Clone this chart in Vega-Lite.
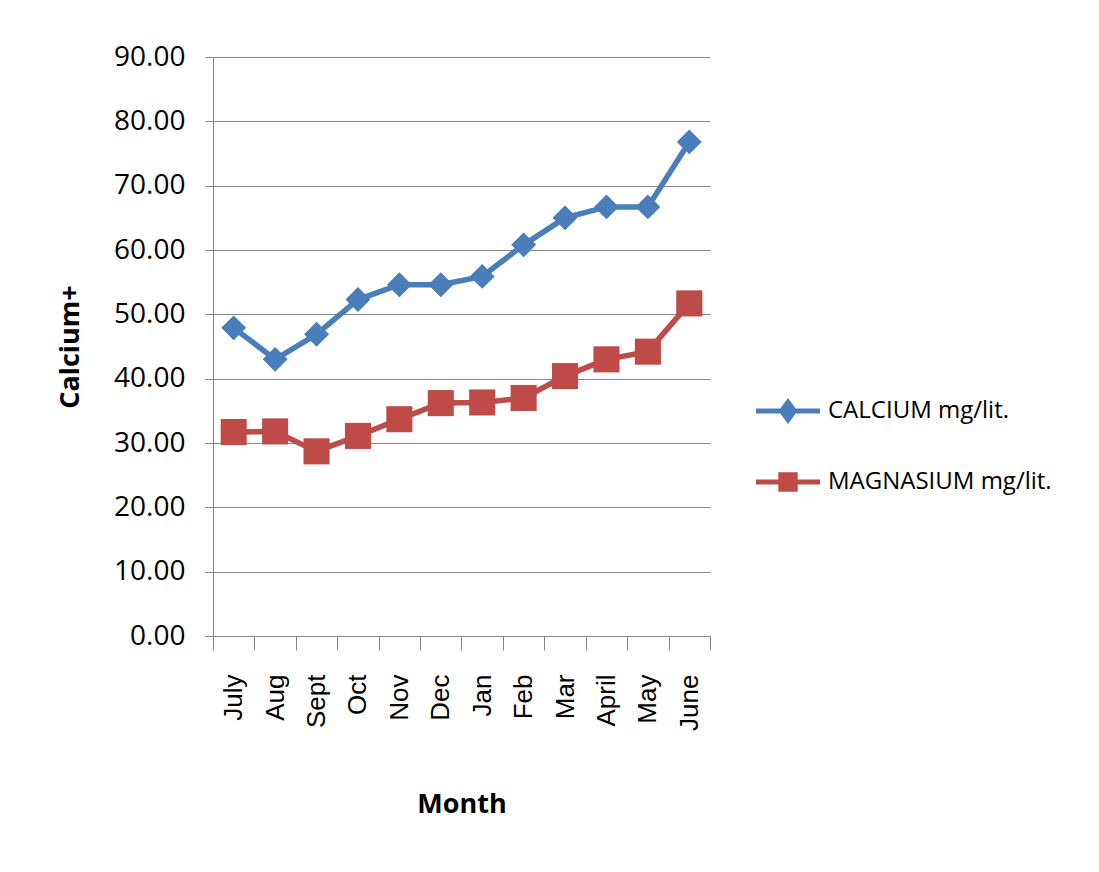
{
  "$schema": "https://vega.github.io/schema/vega-lite/v6.json",
  "width": 497,
  "height": 579,
  "autosize": {"type": "none"},
  "padding": {"left": 213, "top": 57, "right": 389, "bottom": 236},
  "background": "white",
  "config": {
    "view": {"stroke": null},
    "axis": {
      "domainColor": "#868686",
      "tickColor": "#868686",
      "gridColor": "#868686",
      "labelColor": "black",
      "titleColor": "black"
    }
  },
  "data": {
    "values": [
      {"month": "July", "series": "CALCIUM mg/lit.", "value": 47.9},
      {"month": "Aug", "series": "CALCIUM mg/lit.", "value": 43.0},
      {"month": "Sept", "series": "CALCIUM mg/lit.", "value": 46.9},
      {"month": "Oct", "series": "CALCIUM mg/lit.", "value": 52.3},
      {"month": "Nov", "series": "CALCIUM mg/lit.", "value": 54.6},
      {"month": "Dec", "series": "CALCIUM mg/lit.", "value": 54.6},
      {"month": "Jan", "series": "CALCIUM mg/lit.", "value": 55.9},
      {"month": "Feb", "series": "CALCIUM mg/lit.", "value": 60.8},
      {"month": "Mar", "series": "CALCIUM mg/lit.", "value": 65.0},
      {"month": "April", "series": "CALCIUM mg/lit.", "value": 66.7},
      {"month": "May", "series": "CALCIUM mg/lit.", "value": 66.7},
      {"month": "June", "series": "CALCIUM mg/lit.", "value": 76.8},
      {"month": "July", "series": "MAGNASIUM mg/lit.", "value": 31.7},
      {"month": "Aug", "series": "MAGNASIUM mg/lit.", "value": 31.8},
      {"month": "Sept", "series": "MAGNASIUM mg/lit.", "value": 28.7},
      {"month": "Oct", "series": "MAGNASIUM mg/lit.", "value": 31.1},
      {"month": "Nov", "series": "MAGNASIUM mg/lit.", "value": 33.7},
      {"month": "Dec", "series": "MAGNASIUM mg/lit.", "value": 36.2},
      {"month": "Jan", "series": "MAGNASIUM mg/lit.", "value": 36.3},
      {"month": "Feb", "series": "MAGNASIUM mg/lit.", "value": 37.0},
      {"month": "Mar", "series": "MAGNASIUM mg/lit.", "value": 40.4},
      {"month": "April", "series": "MAGNASIUM mg/lit.", "value": 43.0},
      {"month": "May", "series": "MAGNASIUM mg/lit.", "value": 44.2},
      {"month": "June", "series": "MAGNASIUM mg/lit.", "value": 51.7}
    ]
  },
  "encoding": {
    "x": {
      "field": "month",
      "type": "ordinal",
      "sort": ["July", "Aug", "Sept", "Oct", "Nov", "Dec", "Jan", "Feb", "Mar", "April", "May", "June"],
      "scale": {"type": "band", "paddingInner": 0, "paddingOuter": 0},
      "axis": {
        "title": "Month",
        "titleFont": "Open Sans",
        "titleFontSize": 27,
        "titleFontWeight": "bold",
        "titleBaseline": "middle",
        "titleY": 168,
        "labelAngle": -90,
        "labelFont": "Liberation Sans",
        "labelFontSize": 26,
        "labelPadding": 24,
        "tickSize": 14,
        "tickBand": "extent",
        "grid": false
      }
    },
    "y": {
      "field": "value",
      "type": "quantitative",
      "scale": {"domain": [0, 90], "nice": false},
      "axis": {
        "title": "Calcium+",
        "titleFont": "Open Sans",
        "titleFontSize": 27,
        "titleFontWeight": "bold",
        "titleBaseline": "middle",
        "titleX": -143,
        "values": [0, 10, 20, 30, 40, 50, 60, 70, 80, 90],
        "format": ".2f",
        "labelFont": "Open Sans",
        "labelFontSize": 28,
        "labelPadding": 20,
        "tickSize": 8,
        "grid": true
      }
    },
    "color": {
      "field": "series",
      "type": "nominal",
      "scale": {"domain": ["CALCIUM mg/lit.", "MAGNASIUM mg/lit."], "range": ["#4a7ebb", "#be4b48"]},
      "legend": {
        "title": null,
        "orient": "none",
        "legendX": 563,
        "legendY": 342,
        "padding": 0,
        "symbolSize": 256,
        "symbolStrokeWidth": 5,
        "labelFont": "Open Sans",
        "labelFontSize": 24,
        "labelLimit": 400,
        "labelColor": "black",
        "labelOffset": 28,
        "rowPadding": 34,
        "encode": {
          "symbols": {
            "update": {
              "shape": {"signal": "datum.value === 'CALCIUM mg/lit.' ? 'M-4,0L4,0M0,-1.1L0.8,0L0,1.1L-0.8,0Z' : 'M-4,0L4,0M-0.9,-0.9L0.9,-0.9L0.9,0.9L-0.9,0.9Z'"},
              "stroke": {"signal": "datum.value === 'CALCIUM mg/lit.' ? '#4a7ebb' : '#be4b48'"},
              "fill": {"signal": "datum.value === 'CALCIUM mg/lit.' ? '#4a7ebb' : '#be4b48'"},
              "strokeWidth": {"value": 5},
              "size": {"value": 256},
              "opacity": {"value": 1}
            }
          }
        }
      }
    }
  },
  "layer": [
    {
      "mark": {"type": "line", "strokeWidth": 5.5}
    },
    {
      "transform": [{"filter": "datum.series === 'CALCIUM mg/lit.'"}],
      "mark": {"type": "point", "filled": true, "opacity": 1, "shape": "diamond", "size": 620}
    },
    {
      "transform": [{"filter": "datum.series === 'MAGNASIUM mg/lit.'"}],
      "mark": {"type": "point", "filled": true, "opacity": 1, "shape": "square", "size": 680}
    }
  ]
}
